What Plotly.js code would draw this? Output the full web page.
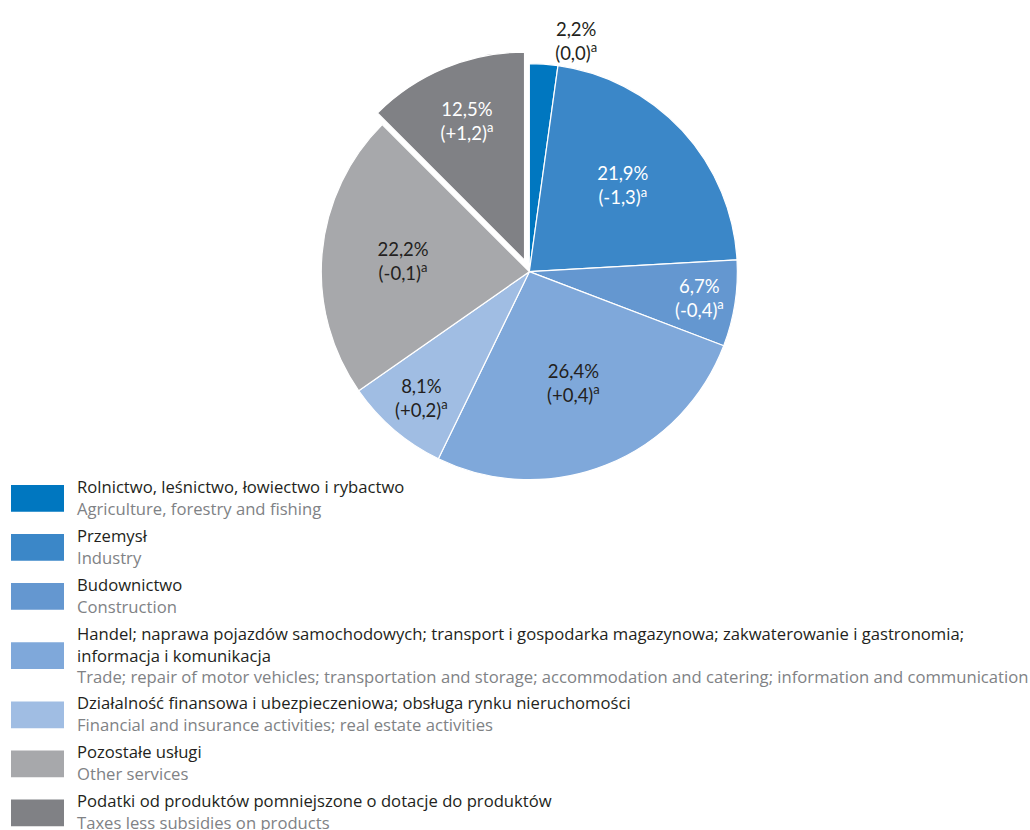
<!DOCTYPE html>
<html>
<head>
<meta charset="utf-8">
<script src="https://cdn.plot.ly/plotly-3.0.1.min.js"></script>
<style>html,body{margin:0;padding:0;background:#fff;}#chart{width:1030px;height:830px;}</style>
</head>
<body>
<div id="chart"></div>
<script>
// ---- data ----
const labelsPL = [
  ["Rolnictwo, leśnictwo, łowiectwo i rybactwo"],
  ["Przemysł"],
  ["Budownictwo"],
  ["Handel; naprawa pojazdów samochodowych; transport i gospodarka magazynowa; zakwaterowanie i gastronomia;", "informacja i komunikacja"],
  ["Działalność finansowa i ubezpieczeniowa; obsługa rynku nieruchomości"],
  ["Pozostałe usługi"],
  ["Podatki od produktów pomniejszone o dotacje do produktów"]
];
const labelsEN = [
  "Agriculture, forestry and fishing",
  "Industry",
  "Construction",
  "Trade; repair of motor vehicles; transportation and storage; accommodation and catering; information and communication",
  "Financial and insurance activities; real estate activities",
  "Other services",
  "Taxes less subsidies on products"
];
const shares = [2.2, 21.9, 6.7, 26.4, 8.1, 22.2, 12.5];
const changes = [0.0, -1.3, -0.4, 0.4, 0.2, -0.1, 1.2];
const colors = ["#0077c0", "#3b87c8", "#6497d0", "#7fa8da", "#a0bde3", "#a7a8ab", "#808185"];
const textColors = ["#231f20", "#ffffff", "#ffffff", "#231f20", "#231f20", "#231f20", "#ffffff"];
const pulls = [0, 0, 0, 0, 0, 0, 0.06];
const textPos = ["outside", "inside", "inside", "inside", "inside", "inside", "inside"];

// ---- helpers ----
const W = 1030, H = 830;
function fmt(v) { return v.toFixed(1).replace('.', ','); }
function fmtChange(v) {
  if (v === 0) return "0,0";
  return (v > 0 ? "+" : "-") + fmt(Math.abs(v));
}
const texts = shares.map((v, i) => fmt(v) + "%<br>(" + fmtChange(changes[i]) + ")<sup>a</sup>");

const PIEFONT = "Lato, 'Open Sans', sans-serif";
const LEGFONT = "'Open Sans', 'Noto Sans', sans-serif";

const trace = {
  type: "pie",
  values: shares,
  labels: labelsEN,
  text: texts,
  textinfo: "text",
  hoverinfo: "label+percent",
  sort: false,
  direction: "clockwise",
  rotation: 0,
  pull: pulls,
  textposition: textPos,
  insidetextorientation: "horizontal",
  marker: { colors: colors, line: { color: "#ffffff", width: 1.2 } },
  textfont: { family: PIEFONT, size: 18.5, color: textColors },
  outsidetextfont: { family: PIEFONT, size: 18.5, color: "#231f20" },
  domain: { x: [0.2998, 0.7280], y: [0.4070, 0.9384] },
  showlegend: false
};

// ---- custom legend ----
const shapes = [];
const annotations = [];
const swLeft = 11, swRight = 64, swH = 26.7, lineH = 20.5;
let yc = 498.3;
for (let i = 0; i < labelsPL.length; i++) {
  const nLines = labelsPL[i].length + 1;
  if (i > 0) {
    const prevLines = labelsPL[i - 1].length + 1;
    yc += 49 + (lineH / 2) * ((prevLines - 2) + (nLines - 2));
  }
  shapes.push({
    type: "rect", xref: "paper", yref: "paper",
    x0: swLeft / W, x1: swRight / W,
    y0: 1 - (yc + swH / 2) / H, y1: 1 - (yc - swH / 2) / H,
    fillcolor: colors[i], line: { width: 0 }
  });
  annotations.push({
    xref: "paper", yref: "paper",
    x: 76 / W, y: 1 - (yc - 1) / H,
    xanchor: "left", yanchor: "middle", align: "left",
    showarrow: false, borderpad: 0,
    text: labelsPL[i].join("<br>") + "<br><span style='color:#808285'>" + labelsEN[i] + "</span>",
    font: { family: LEGFONT, size: 16.65, color: "#231f20" }
  });
}

const layout = {
  width: W, height: H,
  margin: { l: 0, r: 0, t: 0, b: 0 },
  paper_bgcolor: "#ffffff",
  plot_bgcolor: "#ffffff",
  shapes: shapes,
  annotations: annotations,
  font: { family: PIEFONT }
};

Plotly.newPlot("chart", [trace], layout, { displayModeBar: false, staticPlot: true });
</script>
</body>
</html>
